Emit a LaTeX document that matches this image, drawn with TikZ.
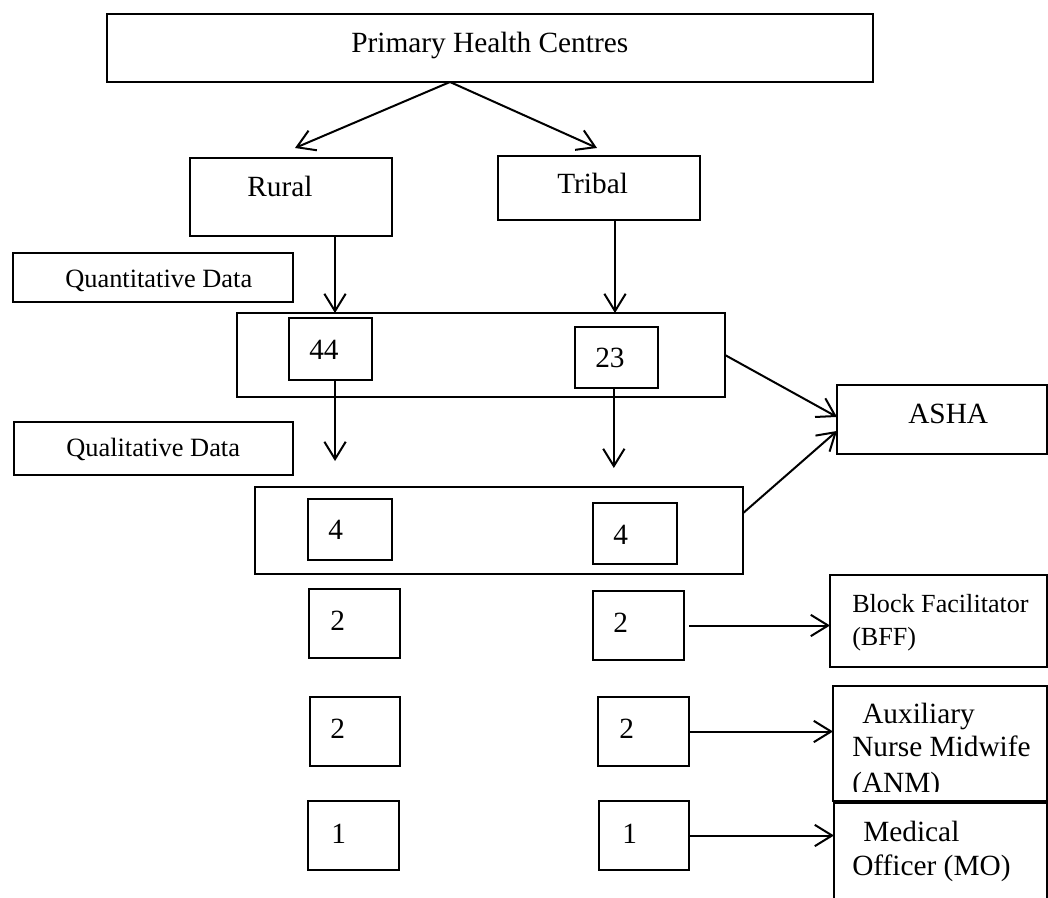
\documentclass[tikz,border=0pt]{standalone}
\usepackage{fontspec}
\setmainfont{Liberation Serif}
\usetikzlibrary{arrows.meta,fit}
\tikzset{
  box/.style={draw, line width=1pt, inner sep=0pt, outer sep=0pt},
  thickbox/.style={draw, line width=2.2pt, inner sep=0pt, outer sep=0pt},
  big/.style={font=\fontsize{22}{26}\selectfont, inner sep=0pt, anchor=base west},
  small/.style={font=\fontsize{19.8}{24}\selectfont, inner sep=0pt, anchor=base west},
  mid/.style={font=\fontsize{19.6}{24}\selectfont, inner sep=0pt, anchor=base west},
  arr/.style={-{Straight Barb[length=13pt,width=16pt,line width=1.5pt]}, line width=1.5pt}
}
\begin{document}
\begin{tikzpicture}[x=0.75pt,y=-0.75pt]
\useasboundingbox (0,0) rectangle (1048,898);
\clip (0,0) rectangle (1048,898);
% boxes
\node[thickbox, fit={(107,14) (873,82)}] (phc) {};
\node[box, fit={(190,158) (392,236)}] (rural) {};
\node[box, fit={(498,156) (700,220)}] (tribal) {};
\node[box, fit={(13,253) (293,302)}] (quant) {};
\node[box, fit={(237,313) (725,397)}] (big1) {};
\node[box, fit={(289,318) (372,380)}] (b44) {};
\node[box, fit={(575,327) (658,388)}] (b23) {};
\node[box, fit={(14,422) (293,475)}] (qual) {};
\node[box, fit={(837,385) (1047,454)}] (asha) {};
\node[box, fit={(255,487) (743,574)}] (big2) {};
\node[box, fit={(308,499) (392,560)}] (b4l) {};
\node[box, fit={(593,503) (677,564)}] (b4r) {};
\node[box, fit={(309,589) (400,658)}] (b2l) {};
\node[box, fit={(593,591) (684,660)}] (b2r) {};
\node[box, fit={(830,575) (1047,667)}] (bff) {};
\node[box, fit={(310,697) (400,766)}] (c2l) {};
\node[box, fit={(598,697) (689,766)}] (c2r) {};
\node[box, fit={(833,686) (1047,801)}] (anm) {};
\node[box, fit={(308,801) (399,870)}] (b1l) {};
\node[box, fit={(599,801) (689,870)}] (b1r) {};
\node[box, fit={(834,803) (1047,930)}] (mo) {};
% texts
\node[big] (tphc) at (351,53) {Primary Health Centres};
\node[big] (trural) at (247,197) {Rural};
\node[big] (ttribal) at (557,194) {Tribal};
\node[small] (tquant) at (65,287) {Quantitative Data};
\node[small] (tqual) at (66,456) {Qualitative Data};
\node[big] (t44) at (309,359) {44};
\node[big] (t23) at (595,367) {23};
\node[big] (tasha) at (908,423) {ASHA};
\node[big] (t4l) at (328,539) {4};
\node[big] (t4r) at (613,544) {4};
\node[big] (t2l) at (330,630) {2};
\node[big] (t2r) at (613,632) {2};
\node[big] (tc2l) at (330,738) {2};
\node[big] (tc2r) at (619,738) {2};
\node[big] (t1l) at (331,843) {1};
\node[big] (t1r) at (622,843) {1};
\node[mid] (tbff1) at (852,612) {Block Facilitator};
\node[mid] (tbff2) at (852,645) {(BFF)};
\begin{scope}
  \clip (anm.north west) rectangle (1047,791);
  \node[big] (tanm1) at (862,723) {Auxiliary};
  \node[big] (tanm2) at (852,756) {Nurse Midwife};
  \node[big] (tanm3) at (852,792) {(ANM)};
\end{scope}
\node[big] (tmo1) at (863,841) {Medical};
\node[big] (tmo2) at (852,875) {Officer (MO)};
% connectors
\coordinate (apex) at (450,82);
\coordinate (rin) at (295,148);
\coordinate (tin) at (597,148);
\draw[arr] (apex) -- (rin);
\draw[arr] (apex) -- (tin);
\draw[arr] ([xshift=33pt]rural.south) -- ([xshift=33pt]rural.south |- big1.north);
\draw[arr] ([xshift=12pt]tribal.south) -- ([xshift=12pt]tribal.south |- big1.north);
\draw[arr] ([xshift=3.4pt]b44.south) -- ++(0,81);
\draw[arr] ([xshift=-2pt]b23.south) -- ++(0,80);
\draw[arr] (big1.east) -- ([yshift=1.9pt]asha.west);
\draw[arr] ([yshift=13pt]big2.east) -- ([yshift=-8.6pt]asha.west);
\draw[arr] ([xshift=3.75pt]b2r.east) -- (b2r.east -| bff.west);
\draw[arr] (c2r.east) -- (c2r.east -| anm.west);
\draw[arr] (b1r.east) -- (b1r.east -| mo.west);
\end{tikzpicture}
\end{document}
